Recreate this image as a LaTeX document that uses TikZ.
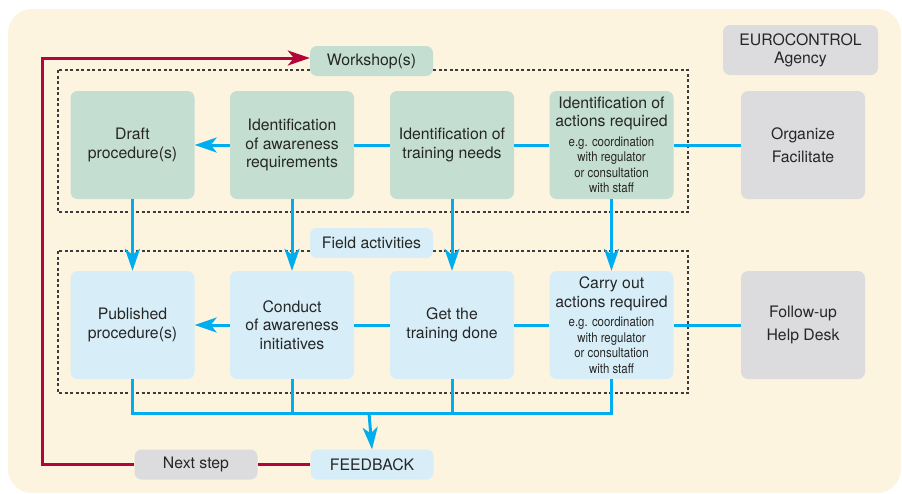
\documentclass[tikz,border=0pt]{standalone}
\usepackage{fontspec}
\setmainfont{TeX Gyre Heros}
\newfontfamily\narrowsans[FakeStretch=0.86]{TeX Gyre Heros}
\usetikzlibrary{arrows.meta}

\definecolor{paper}{HTML}{FDF4DF}
\definecolor{sage}{HTML}{C5DED2}
\definecolor{sky}{HTML}{D7EEF8}
\definecolor{stone}{HTML}{DCDCDE}
\definecolor{cyanline}{HTML}{00AEEF}
\definecolor{wine}{HTML}{B2063B}
\definecolor{ink}{HTML}{262626}

\newcommand{\fine}{\narrowsans\fontsize{13.3}{13}\selectfont}

\tikzset{
  stepbox/.style={rounded corners=7pt, minimum width=124pt, minimum height=108pt,
    align=center, text=ink, inner sep=2pt, font=\fontsize{15.8}{18.5}\selectfont},
  tagbox/.style={rounded corners=7pt, minimum width=123pt, minimum height=30pt,
    align=center, text=ink, inner sep=2pt, font=\fontsize{15.8}{18}\selectfont},
  flow/.style={cyanline, line width=3pt},
  flowarrow/.style={flow, -{Stealth[length=22pt,width=15pt,inset=6pt]}},
  backloop/.style={wine, line width=3pt},
  group/.style={ink!90, line width=1.3pt, dash pattern=on 3pt off 2.5pt}
}

\begin{document}
\begin{tikzpicture}[x=1pt,y=-1pt]
            \useasboundingbox (0,0) rectangle (902,493);
            \fill [paper, rounded corners=24pt] (8,9) rectangle (901,493);
            % dashed groups
            \draw [group] (58,70) rectangle (688,212);
            \draw [group] (58,251) rectangle (688,393);
            % top row
            \node [stepbox, fill=sage] (draft) at (132.5,145) {Draft\\procedure(s)};
            \node [stepbox, fill=sage] (aware) at (292,145) {Identification\\of awareness\\requirements};
            \node [stepbox, fill=sage] (train) at (452,145) {Identification of\\training needs};
            \node [stepbox, fill=sage] (act) at (611.5,145) {Identification of\\actions required\\[1pt]{\fine e.g. coordination}\\[-3pt]{\fine with regulator}\\[-3pt]{\fine or consultation}\\[-3pt]{\fine with staff}};
            \node [stepbox, fill=stone] (org) at (803,145) {Organize\\[5pt]Facilitate};
            % bottom row
            \node [stepbox, fill=sky] (pub) at (132.5,325) {Published\\procedure(s)};
            \node [stepbox, fill=sky] (conduct) at (292,325) {Conduct\\of awareness\\initiatives};
            \node [stepbox, fill=sky] (done) at (452,325) {Get the\\training done};
            \node [stepbox, fill=sky] (carry) at (611.5,325) {Carry out\\actions required\\[1pt]{\fine e.g. coordination}\\[-3pt]{\fine with regulator}\\[-3pt]{\fine or consultation}\\[-3pt]{\fine with staff}};
            \node [stepbox, fill=stone] (follow) at (803,325) {Follow-up\\[5pt]Help Desk};
            % tags
            \node [tagbox, fill=stone, minimum width=155pt, minimum height=50pt] (agency) at (800.5,50) {EUROCONTROL\\Agency};
            \node [tagbox, fill=sage] (workshop) at (371.5,61) {Workshop(s)};
            \node [tagbox, fill=sky] (field) at (371.5,243) {Field activities};
            \node [tagbox, fill=sky] (feedback) at (372,464.5) {FEEDBACK};
            \node [tagbox, fill=stone] (next) at (196,464.5) {Next step};
            \coordinate (bus) at (369,413);
            \coordinate (loop) at (42,58);
            % connectors
            \draw [flowarrow] (aware) -- (draft);
            \draw [flow] (train) -- (aware);
            \draw [flow] (act) -- (train);
            \draw [flow] (org) -- (act);
            \draw [flowarrow] (conduct) -- (pub);
            \draw [flow] (done) -- (conduct);
            \draw [flow] (carry) -- (done);
            \draw [flow] (follow) -- (carry);
            \foreach \a/\b in {draft/pub,aware/conduct,train/done,act/carry}
                \draw [flowarrow] (\a.south) -- (\b.north);
            \draw [flow] (pub.south) |- (bus) -| (carry.south);
            \draw [flow] (conduct.south) -- (conduct.south |- bus);
            \draw [flow] (done.south) -- (done.south |- bus);
            \draw [flowarrow] (bus) -- (feedback.north);
            \draw [backloop] (feedback) -- (next);
            \draw [backloop, -{Stealth[length=22pt,width=15pt,inset=6pt]}] (next.west) -| (loop) -- (loop -| workshop.west);
        \end{tikzpicture}
\end{document}
